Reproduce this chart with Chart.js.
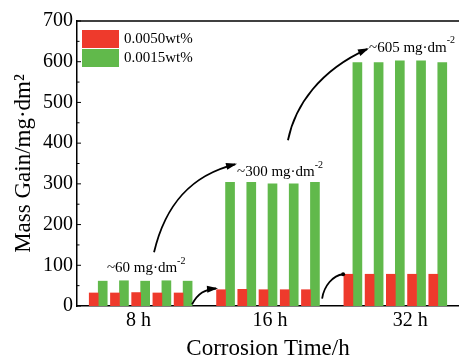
<!DOCTYPE html>
<html>
<head>
<meta charset="utf-8">
<script src="https://cdn.jsdelivr.net/npm/chart.js@4.4.0/dist/chart.umd.min.js"></script>
<style>
  html, body { margin: 0; padding: 0; background: #fff; }
  #wrap { width: 459px; height: 356px; }
</style>
</head>
<body>
<div id="wrap"><canvas id="massChart"></canvas></div>
<script>
const times = ['8 h', '16 h', '32 h'];
const wt0050 = [[32, 32, 33, 32, 32], [40, 41, 40, 40, 40], [78, 78, 78, 78, 78]];
const wt0015 = [[61, 62, 61, 62, 61], [304, 304, 300, 300, 304], [598, 598, 602, 602, 598]];
const yTicks = [0, 100, 200, 300, 400, 500, 600, 700];
const gainNotes = ['~60', '~300', '~605'];

const RED = '#ee3a2c';
const GREEN = '#61b94b';
const SERIF = "'Liberation Serif', 'Times New Roman', serif";

// 5 samples per time, one empty slot between the groups
function toPoints(groups) {
  const pts = [];
  groups.forEach((vals, g) => vals.forEach((v, i) => pts.push({ x: g * 6 + i, y: v })));
  return pts;
}

// where the time labels sit (axis units)
const labelAt = [1.9, 8.1, 14.7];
// annotation text anchors and arrow curves, in axis units (x slot, y value)
const noteAt = [[0.41, 92], [6.54, 328], [12.76, 634]];
const arrows = [
  { pts: [[2.63, 132], [3.15, 247], [4.33, 321], [6.45, 348]], head: true },
  { pts: [[8.94, 407], [9.27, 493], [10.45, 579], [12.67, 631]], head: true },
  { pts: [[4.42, 4], [4.70, 31], [5.03, 41], [5.55, 43]], head: true },
  { pts: [[10.55, 18], [10.64, 50], [11.06, 75], [11.54, 78]], head: false }
];

const extras = {
  id: 'extras',
  afterDraw(chart) {
    const { ctx, chartArea: a, scales: { x, y } } = chart;
    ctx.save();
    // top frame line
    ctx.strokeStyle = '#000';
    ctx.lineWidth = 1.5;
    ctx.beginPath();
    ctx.moveTo(a.left, a.top);
    ctx.lineTo(a.right, a.top);
    ctx.stroke();

    // inward ticks on the y axis
    ctx.lineWidth = 1;
    for (let v = 0; v <= 700; v += 50) {
      const py = y.getPixelForValue(v);
      const len = v % 100 === 0 ? 4 : 2.5;
      ctx.beginPath();
      ctx.moveTo(a.left, py);
      ctx.lineTo(a.left + len, py);
      ctx.stroke();
    }

    // legend
    chart.data.datasets.forEach((ds, i) => {
      const top = a.top + 9 + i * 19;
      ctx.fillStyle = ds.backgroundColor;
      ctx.fillRect(a.left + 5, top, 37, 18);
      ctx.fillStyle = '#000';
      ctx.font = '15px ' + SERIF;
      ctx.textBaseline = 'middle';
      ctx.textAlign = 'left';
      ctx.fillText(ds.label, a.left + 47, top + 9);
    });

    // arrows
    ctx.strokeStyle = '#000';
    ctx.fillStyle = '#000';
    ctx.lineWidth = 1.8;
    arrows.forEach(ar => {
      const p = ar.pts.map(q => [x.getPixelForValue(q[0]), y.getPixelForValue(q[1])]);
      ctx.beginPath();
      ctx.moveTo(p[0][0], p[0][1]);
      ctx.bezierCurveTo(p[1][0], p[1][1], p[2][0], p[2][1], p[3][0], p[3][1]);
      ctx.stroke();
      if (ar.head) {
        const ang = Math.atan2(p[3][1] - p[2][1], p[3][0] - p[2][0]);
        ctx.save();
        ctx.translate(p[3][0], p[3][1]);
        ctx.rotate(ang);
        ctx.beginPath();
        ctx.moveTo(2, 0);
        ctx.lineTo(-9, -3.5);
        ctx.lineTo(-9, 3.5);
        ctx.closePath();
        ctx.fill();
        ctx.restore();
      } else {
        ctx.beginPath();
        ctx.arc(p[3][0], p[3][1], 2, 0, Math.PI * 2);
        ctx.fill();
      }
    });

    // mass gain notes
    ctx.textBaseline = 'middle';
    ctx.textAlign = 'left';
    gainNotes.forEach((n, i) => {
      let px = x.getPixelForValue(noteAt[i][0]);
      const py = y.getPixelForValue(noteAt[i][1]);
      ctx.font = '15px ' + SERIF;
      const main = n + ' mg\u00b7dm';
      ctx.fillText(main, px, py);
      px += ctx.measureText(main).width;
      ctx.font = '10px ' + SERIF;
      ctx.fillText('-2', px, py - 7);
    });
    ctx.restore();
  }
};

new Chart(document.getElementById('massChart'), {
  type: 'bar',
  data: {
    datasets: [{
      label: '0.0050wt%',
      data: toPoints(wt0050),
      backgroundColor: RED,
      barThickness: 9
    }, {
      label: '0.0015wt%',
      data: toPoints(wt0015),
      backgroundColor: GREEN,
      barThickness: 9
    }]
  },
  options: {
    responsive: true,
    maintainAspectRatio: false,
    animation: false,
    layout: { padding: { top: 21, right: 0, left: 0, bottom: 0 } },
    plugins: {
      legend: { display: false },
      tooltip: { enabled: false }
    },
    scales: {
      x: {
        type: 'linear',
        min: -1,
        max: 17,
        offset: false,
        bounds: 'data',
        afterBuildTicks: s => { s.ticks = labelAt.map(v => ({ value: v })); },
        afterFit: s => { s.height = 50; },
        grid: { display: false, drawTicks: false, offset: false },
        border: { color: '#000', width: 1.5 },
        ticks: {
          color: '#000',
          padding: 3,
          maxRotation: 0,
          autoSkip: false,
          font: { family: SERIF, size: 20 },
          callback: (v, i) => times[i]
        },
        title: {
          display: true,
          text: 'Corrosion Time/h',
          color: '#000',
          padding: { top: 0, bottom: -7 },
          font: { family: SERIF, size: 23 }
        }
      },
      y: {
        min: 0,
        max: 700,
        afterBuildTicks: s => { s.ticks = yTicks.map(v => ({ value: v })); },
        afterFit: s => { s.width = 77; },
        grid: { display: false, drawTicks: false },
        border: { color: '#000', width: 1.5 },
        ticks: {
          color: '#000',
          padding: 4,
          font: { family: SERIF, size: 20 }
        },
        title: {
          display: true,
          text: 'Mass Gain/mg\u00b7dm\u00b2',
          color: '#000',
          padding: { top: 10, bottom: 0 },
          font: { family: SERIF, size: 23 }
        }
      }
    }
  },
  plugins: [extras]
});
</script>
</body>
</html>
